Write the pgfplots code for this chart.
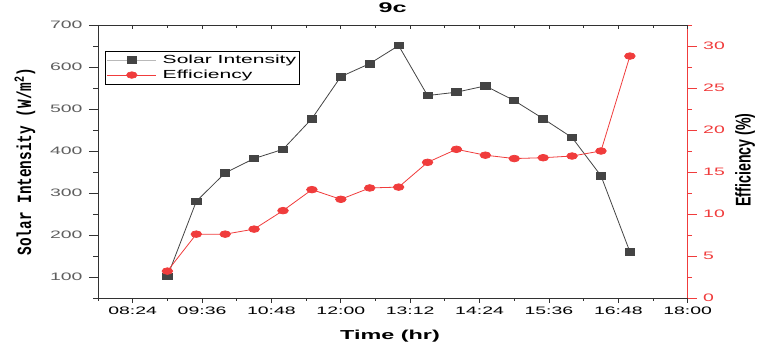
\documentclass[border=0pt]{standalone}
\usepackage{fontspec}
\usepackage{graphicx}
\usepackage{pgfplots}
\usepackage{pgfplotstable}
\pgfplotsset{compat=1.18}
\setmainfont{Liberation Sans}
\newfontfamily\wide[FakeStretch=1.8]{Liberation Sans}
\newfontfamily\mono{Liberation Mono}

\definecolor{sigray}{RGB}{68,68,68}
\definecolor{effred}{RGB}{240,60,60}
\definecolor{ticklab}{RGB}{95,95,95}
\definecolor{spine}{RGB}{50,50,50}

% time of day in minutes, solar intensity (W/m^2), efficiency (%)
\pgfplotstableread{
t    sol  eff
540  101  3.2
570  280  7.6
600  348  7.6
630  382  8.2
660  404  10.4
690  477  12.9
720  577  11.75
750  608  13.1
780  651  13.2
810  532  16.15
840  540  17.7
870  555  17.0
900  520  16.6
930  477  16.7
960  432  16.9
990  341  17.5
1020 160  28.8
}\datatable

\pgfplotsset{
  base/.style={
    scale only axis, width=589.7pt, height=273pt,
    xmin=468, xmax=1080, at={(0,0)}, anchor=south west, clip=false,
    xtick={504,576,...,1080}, minor xtick={468,540,...,1044},
    /pgf/number format/assume math mode=true,
    tick label style={font=\wide\fontsize{10.8}{12}\selectfont},
  },
}

\begin{document}
\begin{tikzpicture}
\useasboundingbox (-98pt,-46pt) rectangle (660pt,298pt);

% left axis: solar intensity
\begin{axis}[base,
  ymin=50, ymax=700, hide x axis, axis y line*=left,
  ytick={100,200,...,700}, minor ytick={50,150,...,650},
  tick align=outside, major tick length=9pt, minor tick length=4.5pt,
  y axis line style={spine, line width=0.8pt},
  ytick style={spine, line width=0.8pt},
  yticklabel style={text=ticklab, xshift=-3pt},
  ylabel={\scalebox{1}[1.4]{\mono\bfseries\fontsize{14.4}{16}\selectfont Solar Intensity (W/m\textsuperscript{2})}},
  ylabel style={at={(axis description cs:-0.1238,0.5)}, anchor=center, rotate=0},
  title={9c},
  title style={at={(axis description cs:0.4995,1.0403)}, anchor=center,
    font=\wide\bfseries\fontsize{14}{15}\selectfont},
  legend image code/.code={\draw[mark repeat=2,mark phase=2,#1] plot coordinates {(0pt,0pt) (24.5pt,0pt) (49pt,0pt)};},
  legend style={at={(axis description cs:0.0119,0.9059)}, anchor=north west,
    draw=black, line width=0.8pt, inner xsep=1.5pt, inner ysep=2pt,
    font=\wide\fontsize{11.7}{13}\selectfont, row sep=1pt,
    /tikz/every odd column/.append style={column sep=4pt},
    cells={anchor=west}},
]
\addplot[sigray, line width=0.8pt, mark=square*, mark size=3.3pt,
  mark options={xscale=1.4, fill=sigray, draw=sigray}, forget plot]
  table[x=t, y=sol]{\datatable};
\addlegendimage{gray!55, line width=0.8pt, mark=square*, mark size=3.3pt,
  mark options={xscale=1.4, fill=sigray, draw=sigray}}
\addlegendentry{Solar Intensity}
\addlegendimage{effred, line width=0.6pt, mark=*, mark size=3.3pt,
  mark options={xscale=1.6, fill=effred, draw=effred}}
\addlegendentry{Efficiency}
\end{axis}

% right axis: efficiency
\begin{axis}[base,
  ymin=0, ymax=32.5, hide x axis, axis y line*=right,
  ytick={0,5,...,30}, minor ytick={2.5,7.5,...,32.5},
  tick align=outside, major tick length=9pt, minor tick length=4.5pt,
  y axis line style={effred, line width=1pt},
  ytick style={effred, line width=0.8pt},
  yticklabel style={text=effred, xshift=3pt},
  ylabel={\scalebox{1}[1.5]{\bfseries\fontsize{14.2}{16}\selectfont Efficiency (\%)}},
  ylabel style={at={(axis description cs:1.0972,0.5055)}, anchor=center, rotate=0},
]
\addplot[effred, line width=0.8pt, mark=*, mark size=3.3pt,
  mark options={xscale=1.6, fill=effred, draw=effred}]
  table[x=t, y=eff]{\datatable};
\end{axis}

% bottom time axis
\begin{axis}[base,
  ymin=0, ymax=1, hide y axis, axis x line*=bottom,
  xticklabels={08:24,09:36,10:48,12:00,13:12,14:24,15:36,16:48,18:00},
  tick align=outside, major tick length=5pt, minor tick length=3pt,
  x axis line style={spine, line width=0.8pt},
  xtick style={spine, line width=0.8pt},
  xticklabel style={text=black},
  xlabel={Time (hr)},
  xlabel style={at={(axis description cs:0.4952,-0.1392)}, anchor=center,
    font=\wide\bfseries\fontsize{13}{14}\selectfont},
]
\end{axis}

% top frame line
\begin{axis}[base,
  ymin=0, ymax=1, hide y axis, axis x line*=top,
  xticklabels={}, tick align=inside,
  major tick length=4.5pt, minor tick length=3pt,
  x axis line style={spine, line width=0.8pt},
  xtick style={spine, line width=0.8pt},
]
\end{axis}
\end{tikzpicture}
\end{document}
